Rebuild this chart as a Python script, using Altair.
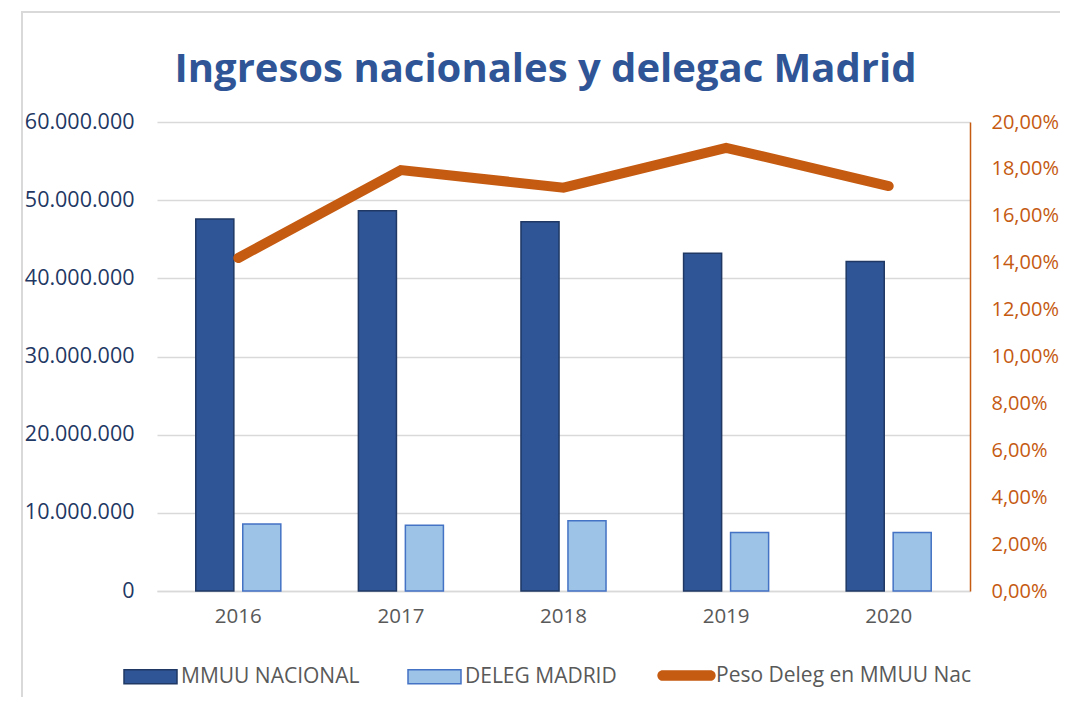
import altair as alt
import pandas as pd

years = ["2016", "2017", "2018", "2019", "2020"]
mmuu_nacional = [47600000, 48650000, 47250000, 43200000, 42150000]
deleg_madrid = [8570000, 8420000, 8980000, 7480000, 7480000]
peso_deleg = [0.1420, 0.1795, 0.1720, 0.1890, 0.1727]

bar_series = ["MMUU NACIONAL", "DELEG MADRID"]
line_series = ["Peso Deleg en MMUU Nac"]
fill_colors = ["#2F5597", "#9DC3E6"]
stroke_colors = ["#1F3864", "#4472C4"]
line_color = "#C55A11"

y_ticks = [0, 10000000, 20000000, 30000000, 40000000, 50000000, 60000000]
pct_ticks = [0, 0.02, 0.04, 0.06, 0.08, 0.10, 0.12, 0.14, 0.16, 0.18, 0.20]

bars_df = pd.DataFrame(
    {
        "year": years * 2,
        "serie": [bar_series[0]] * len(years) + [bar_series[1]] * len(years),
        "valor": mmuu_nacional + deleg_madrid,
    }
)
line_df = pd.DataFrame({"year": years, "peso": peso_deleg, "serie": line_series * len(years)})

FONT = "Open Sans"

x_enc = alt.X(
    "year:N",
    sort=years,
    scale=alt.Scale(paddingInner=0.477, paddingOuter=0.2385),
    axis=alt.Axis(
        title=None,
        labelAngle=0,
        ticks=False,
        domain=True,
        domainColor="#D9D9D9",
        domainWidth=1.3,
        labelColor="#595959",
        labelFont=FONT,
        labelFontSize=20.5,
        labelPadding=15,
        grid=False,
    ),
)

rect_path = "M-1,-0.26L1,-0.26L1,0.26L-1,0.26Z"
line_path = ("M-0.9,-0.2L0.9,-0.2A0.2,0.2 0 0 1 0.9,0.2L-0.9,0.2"
             "A0.2,0.2 0 0 1 -0.9,-0.2Z")

legend_common = dict(
    title=None,
    orient="none",
    legendY=527,
    direction="horizontal",
    labelFont=FONT,
    labelFontSize=21,
    labelColor="#595959",
    labelOffset=3,
    labelLimit=500,
    columnPadding=45,
    symbolOpacity=1,
    symbolSize=2809,
)

bar_legend = alt.Legend(
    legendX=-34,
    symbolType=rect_path,
    symbolStrokeWidth=1.5,
    **legend_common,
)

bars = (
    alt.Chart(bars_df)
    .mark_bar(strokeWidth=1.5)
    .encode(
        x=x_enc,
        xOffset=alt.XOffset(
            "serie:N",
            sort=bar_series,
            scale=alt.Scale(paddingInner=0.19, paddingOuter=0),
        ),
        y=alt.Y(
            "valor:Q",
            scale=alt.Scale(domain=[0, 60000000], nice=False),
            axis=alt.Axis(
                title=None,
                values=y_ticks,
                format=",.0f",
                grid=True,
                gridColor="#D9D9D9",
                gridWidth=1.3,
                domain=False,
                ticks=False,
                labelColor="#1F3864",
                labelFont=FONT,
                labelFontSize=21.5,
                labelPadding=23,
            ),
        ),
        color=alt.Color(
            "serie:N",
            sort=bar_series,
            scale=alt.Scale(domain=bar_series, range=fill_colors),
            legend=bar_legend,
        ),
        stroke=alt.Stroke(
            "serie:N",
            sort=bar_series,
            scale=alt.Scale(domain=bar_series, range=stroke_colors),
            legend=bar_legend,
        ),
    )
)

line = (
    alt.Chart(line_df)
    .mark_line(strokeWidth=10, strokeCap="round", strokeJoin="miter")
    .encode(
        x=x_enc,
        y=alt.Y(
            "peso:Q",
            scale=alt.Scale(domain=[0, 0.2], nice=False),
            axis=alt.Axis(
                title=None,
                orient="right",
                values=pct_ticks,
                format=".2%",
                grid=False,
                domain=True,
                domainColor=line_color,
                domainWidth=1.5,
                ticks=False,
                labelColor=line_color,
                labelFont=FONT,
                labelFontSize=20,
                labelPadding=21,
            ),
        ),
        color=alt.Color(
            "serie:N",
            scale=alt.Scale(domain=line_series, range=[line_color]),
            legend=alt.Legend(
                legendX=503,
                symbolType=line_path,
                symbolFillColor=line_color,
                symbolStrokeWidth=0,
                **legend_common,
            ),
        ),
    )
)

frame = (
    alt.Chart(alt.Data(values=[{"k": 1}]))
    .mark_rect(fill="transparent", stroke="#D9D9D9", strokeWidth=2)
    .encode(
        x=alt.value(-135),
        x2=alt.value(960),
        y=alt.value(-110),
        y2=alt.value(700),
    )
)

chart = (
    alt.layer(frame, bars, line)
    .resolve_scale(y="independent", color="independent", stroke="independent")
    .properties(
        width=813,
        height=469,
        title=alt.TitleParams(
            "Ingresos nacionales y delegac Madrid",
            font=FONT,
            fontSize=40,
            fontWeight="bold",
            color="#2F5597",
            anchor="middle",
            dx=-18,
            dy=99,
            offset=20,
        ),
        padding={"left": 149, "top": 114, "right": 90, "bottom": 106},
        autosize=alt.AutoSizeParams(type="none"),
    )
    .configure(
        locale={
            "number": {
                "decimal": ",",
                "thousands": ".",
                "grouping": [3],
                "currency": ["", " €"],
            }
        }
    )
    .configure_view(stroke=None)
)

chart.save("out.html", embed_options={"renderer": "svg", "actions": False})
